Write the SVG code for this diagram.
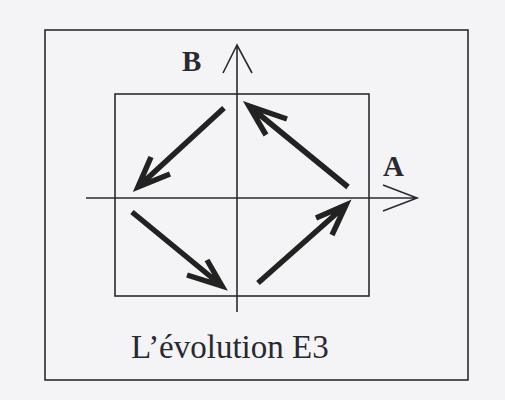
<svg xmlns="http://www.w3.org/2000/svg" width="505" height="400" viewBox="0 0 505 400">
<style>
.thin{fill:none;stroke:#2b2a33;stroke-width:1.6}
.thick{fill:none;stroke:#222;stroke-width:5.5;stroke-linecap:butt;stroke-linejoin:miter}
.lbl{font-family:"Liberation Serif","Times New Roman",serif;fill:#2a2830}
</style>
<rect x="0" y="0" width="505" height="400" fill="#f4f4f6"/>
<g id="frame"><rect class="thin" x="45" y="30" width="423" height="350"/></g>
<g id="box"><rect class="thin" x="115" y="94" width="254" height="202"/></g>
<g id="axes">
<path class="thin" d="M237 312 V45 M223 73 L237 45 L252 73"/>
<path class="thin" d="M86 198 H417 M383 185 L417 198 L383 211"/>
</g>
<g id="connectors">
<path class="thick" d="M224 108 L138 187 M151 157 L138 187 L170 174"/>
<path class="thick" d="M348 187 L249 106 M266 135 L249 106 L287 119"/>
<path class="thick" d="M132 212 L222 286 M207 260 L222 286 L187 275"/>
<path class="thick" d="M258 283 L346 205 M316 218 L346 205 L332 235"/>
</g>
<g id="label-B"><text class="lbl" x="182" y="71" font-size="29" font-weight="bold">B</text></g>
<g id="label-A"><text class="lbl" x="383" y="176" font-size="29" font-weight="bold">A</text></g>
<g id="title"><text class="lbl" x="131" y="358" font-size="33">L’évolution E3</text></g>
</svg>
